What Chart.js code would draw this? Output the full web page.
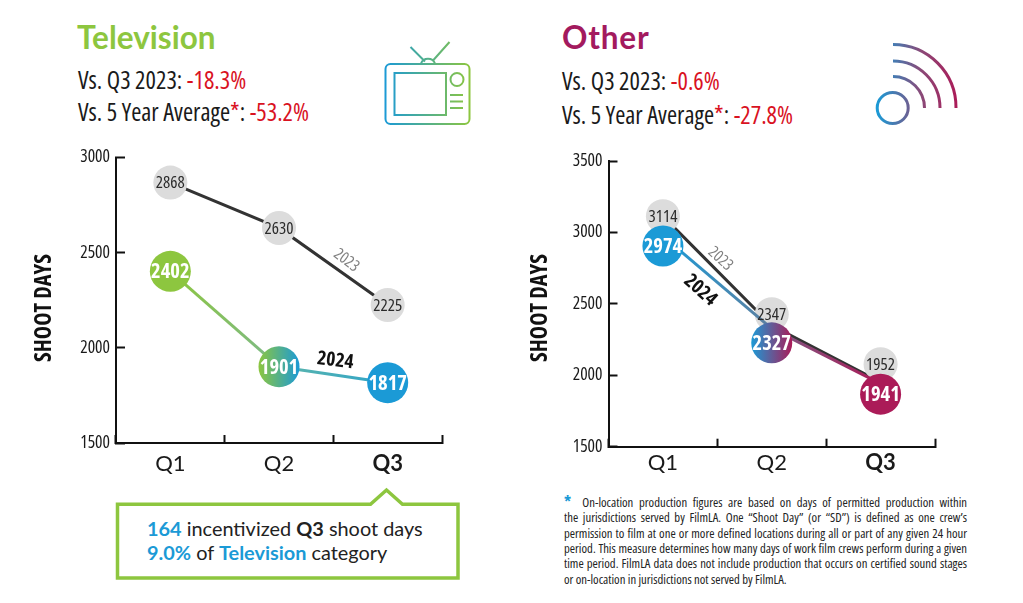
<!DOCTYPE html>
<html>
<head>
<meta charset="utf-8">
<script src="https://cdn.jsdelivr.net/npm/chart.js@4"></script>
<style>
html, body { margin: 0; padding: 0; background: #fff; width: 1023px; height: 603px; overflow: hidden; }
canvas, svg, .txt { position: absolute; }
.txt { white-space: nowrap; }
.head { font: 700 31.5px Lato, sans-serif; }
.vs { font: 24.5px "Open Sans", sans-serif; font-stretch: 75%; color: #1a1a1a; }
.red { color: #d9121f; }
.box { font: 19.9px Lato, sans-serif; color: #222; }
.box b { font-weight: 700; }
.blue { color: #1b9ad6; }
.star { font-size: 16px; line-height: 10px; }
.note { left: 564px; width: 403px; font: 12.7px/15px "Open Sans", sans-serif; font-stretch: 75%; color: #222; white-space: normal; text-align: justify; text-align-last: justify; }
.note.last { text-align-last: left; }
</style>
</head>
<body>

<div class="txt head" style="left:77px;top:18px;color:#8dc63f">Television</div>
<div class="txt vs" style="left:78px;top:63px">Vs. Q3 2023: <span class="red">-18.3%</span></div>
<div class="txt vs" style="left:78px;top:95px">Vs. 5 Year Average<span class="red">*</span>: <span class="red">-53.2%</span></div>

<div class="txt head" style="left:562px;top:18px;color:#a31a5e;letter-spacing:0.8px">Other</div>
<div class="txt vs" style="left:562px;top:64px">Vs. Q3 2023: <span class="red">-0.6%</span></div>
<div class="txt vs" style="left:562px;top:98px">Vs. 5 Year Average<span class="red">*</span>: <span class="red">-27.8%</span></div>

<!-- icons -->
<svg width="1023" height="603" style="left:0;top:0" fill="none">
  <defs>
    <linearGradient id="tvGrad" gradientUnits="userSpaceOnUse" x1="385" y1="0" x2="470" y2="0">
      <stop offset="0" stop-color="#1b9ad6"/><stop offset="1" stop-color="#8dc63f"/>
    </linearGradient>
    <linearGradient id="wifiGrad" gradientUnits="userSpaceOnUse" x1="877" y1="0" x2="957" y2="0">
      <stop offset="0" stop-color="#1b9ad6"/><stop offset="0.55" stop-color="#8a4a78"/><stop offset="1" stop-color="#ab1b58"/>
    </linearGradient>
  </defs>
  <g stroke="url(#tvGrad)" stroke-width="2">
    <rect x="385.5" y="64" width="84" height="60" rx="5"/>
    <rect x="394.5" y="73" width="51.5" height="42"/>
    <circle cx="457" cy="79.5" r="6.5"/>
    <path d="M450 95H463M450 101.500H463M450 108H463" stroke-width="2.200"/>
    <path d="M410.500 47L425 61.500M449.500 42L433 60.500M421 63.500A7.500 7.500 0 0 1 435 63.500"/>
  </g>
  <g stroke="url(#wifiGrad)" stroke-width="3">
    <circle cx="892.700" cy="108" r="15.500"/>
    <path d="M893 76.500A31.500 31.500 0 0 1 924.500 108M893 61A47 47 0 0 1 940 108M893 44.500A63 63 0 0 1 956 108"/>
  </g>
  <path d="M117.500 504.300H370.500L386.500 490L402.500 504.300H458V578H117.500Z" stroke="#8dc63f" stroke-width="3.500"/>
</svg>

<div class="txt box" style="left:147px;top:516px"><b class="blue">164</b> incentivized <b>Q3</b> shoot days</div>
<div class="txt box" style="left:147px;top:540px"><b class="blue">9.0%</b> of <b class="blue">Television</b> category</div>

<div class="txt note" style="top:495px"><b class="blue star">*</b>&nbsp; On-location production figures are based on days of permitted production within</div>
<div class="txt note" style="top:510px">the jurisdictions served by FilmLA. One “Shoot Day” (or “SD”) is defined as one crew’s</div>
<div class="txt note" style="top:526px">permission to film at one or more defined locations during all or part of any given 24 hour</div>
<div class="txt note" style="top:541px">period. This measure determines how many days of work film crews perform during a given</div>
<div class="txt note" style="top:556px">time period. FilmLA data does not include production that occurs on certified sound stages</div>
<div class="txt note last" style="top:572px">or on-location in jurisdictions not served by FilmLA.</div>

<canvas id="tvChart" width="500" height="340" style="left:0;top:137px"></canvas>
<canvas id="otherChart" width="511" height="340" style="left:512px;top:140px"></canvas>

<script>
const quarters = ['Q1', 'Q2', 'Q3'];

const tv2023 = [2868, 2630, 2225];
const tv2024 = [2402, 1901, 1817];
const tvTicks = [1500, 2000, 2500, 3000];

const other2023 = [3114, 2347, 1952];
const other2024 = [2974, 2327, 1941];
const otherTicks = [1500, 2000, 2500, 3000, 3500];

// the Other circles sit off their lines in the picture so they don't cover each other,
// these are the heights they are drawn at. Printed numbers still come from the arrays above
const other2023Circles = [3114, 2428, 2078];
const other2024Circles = [2905, 2227, 1868];

const GREEN = '#8dc63f', BLUE = '#1b9ad6', BERRY = '#ab1b58', GREY = '#dcdcdc', DARK = '#333333';
const NARROW = '"Open Sans", sans-serif';

function sideways(chart, c1, c2, x1, x2) {
    const g = chart.ctx.createLinearGradient(x1, 0, x2, 0);
    g.addColorStop(0, c1);
    g.addColorStop(1, c2);
    return g;
}

function lineSet(values, width, segColors) {
    return {
        data: values,
        borderColor: DARK,
        borderWidth: width,
        pointRadius: 0,
        clip: false,
        segment: {
            borderColor: ctx => segColors
                ? sideways(ctx.chart, segColors[ctx.p0DataIndex][0], segColors[ctx.p0DataIndex][1], ctx.p0.x, ctx.p1.x)
                : DARK
        }
    };
}

function circleSet(heights, printed, radius, fills, textStyle) {
    return {
        data: heights,
        showLine: false,
        clip: false,
        pointRadius: radius,
        pointBorderWidth: 0,
        pointBackgroundColor: ctx => {
            const f = fills[ctx.dataIndex];
            if (typeof f === 'string') return f;
            const cx = ctx.chart.scales.x.getPixelForValue(ctx.dataIndex);
            return sideways(ctx.chart, f[0], f[1], cx - radius, cx + radius);
        },
        printed: printed,
        textStyle: textStyle
    };
}

const printedNumbers = {
    id: 'printedNumbers',
    afterDatasetsDraw(chart, args, opts) {
        const c = chart.ctx;
        c.save();
        c.textAlign = 'center';
        c.textBaseline = 'middle';

        chart.data.datasets.forEach((ds, i) => {
            if (!ds.printed) return;
            c.font = ds.textStyle.font;
            c.fillStyle = ds.textStyle.color;
            chart.getDatasetMeta(i).data.forEach((pt, k) => c.fillText(ds.printed[k], pt.x, pt.y + 1));
        });

        // year tags follow the middle of a line segment
        opts.tags.forEach(t => {
            const pts = chart.getDatasetMeta(t.line).data;
            const x = (pts[t.seg].x + pts[t.seg + 1].x) / 2 + t.dx;
            const y = (pts[t.seg].y + pts[t.seg + 1].y) / 2 + t.dy;
            c.save();
            c.translate(x, y);
            c.rotate(t.angle * Math.PI / 180);
            c.font = t.font;
            c.fillStyle = t.color;
            c.fillText(t.text, 0, 0);
            c.restore();
        });

        // axis caption is lower than the middle of the axis, so not the scale's own title
        c.save();
        c.translate(opts.captionX, opts.captionY);
        c.rotate(-Math.PI / 2);
        c.font = 'bold condensed 22.5px ' + NARROW;
        c.fillStyle = '#111';
        c.fillText('SHOOT DAYS', 0, 0);
        c.restore();

        c.restore();
    }
};

function makeChart(id, datasets, ticks, tags, area, captionX, captionY) {
    return new Chart(document.getElementById(id), {
        type: 'line',
        data: { labels: quarters, datasets: datasets },
        plugins: [printedNumbers],
        options: {
            responsive: false,
            animation: false,
            events: [],
            layout: { padding: { left: 0, right: area.right, top: area.top, bottom: 0 } },
            plugins: {
                legend: { display: false },
                title: { display: false },
                tooltip: { enabled: false },
                printedNumbers: { tags: tags, captionX: captionX, captionY: captionY }
            },
            scales: {
                x: {
                    offset: true,
                    afterFit: s => { s.height = area.below; s.paddingLeft = 0; s.paddingRight = 0; },
                    border: { color: '#111', width: 2 },
                    grid: { drawOnChartArea: false, tickLength: -8, tickWidth: 2, tickColor: '#111', offset: true },
                    ticks: {
                        padding: area.xPad,
                        color: '#1a1a1a',
                        maxRotation: 0,
                        font: c => ({ family: 'Lato, sans-serif', size: 22, weight: c.index === 2 ? '700' : '400' })
                    }
                },
                y: {
                    min: ticks[0],
                    max: ticks[ticks.length - 1],
                    afterFit: s => { s.width = area.left; s.paddingTop = 0; s.paddingBottom = 0; },
                    afterBuildTicks: s => { s.ticks = ticks.map(v => ({ value: v })); },
                    border: { color: '#111', width: 2 },
                    grid: { drawOnChartArea: false, tickLength: -9, tickWidth: 2, tickColor: '#111' },
                    ticks: {
                        padding: 15,
                        color: '#1a1a1a',
                        callback: v => String(v),
                        font: { family: NARROW, size: 17.500, weight: 'condensed' }
                    }
                }
            }
        }
    });
}

const greyText = { font: '500 condensed 17px ' + NARROW, color: '#2b2b2b' };
const whiteText = { font: 'bold condensed 20.5px ' + NARROW, color: '#ffffff' };
const tag2023 = 'condensed 16px ' + NARROW;
const tag2024 = 'bold condensed 19.5px ' + NARROW;

makeChart('tvChart', [
    Object.assign(circleSet(tv2024, tv2024, 20.5, [GREEN, [GREEN, BLUE], BLUE], whiteText), { order: 1 }),
    Object.assign(lineSet(tv2024, 3, [[GREEN, '#7cb98a'], ['#5cb6ab', '#2fa3c9']]), { order: 2 }),
    Object.assign(circleSet(tv2023, tv2023, 17, [GREY, GREY, GREY], greyText), { order: 3 }),
    Object.assign(lineSet(tv2023, 3), { order: 4 })
], tvTicks, [
    { line: 3, seg: 1, dx: 13, dy: -6, angle: 37, text: '2023', font: tag2023, color: '#808080' },
    { line: 1, seg: 1, dx: 2, dy: -14, angle: 7, text: '2024', font: tag2024, color: '#111' }
], { left: 116, right: 58, top: 20, below: 34, xPad: 16 }, 45, 171);

makeChart('otherChart', [
    Object.assign(circleSet(other2024Circles, other2024, 20.5, [BLUE, [BLUE, BERRY], BERRY], whiteText), { order: 1 }),
    Object.assign(lineSet(other2024, 3, [[BLUE, '#5f7f9f'], ['#7d5a84', BERRY]]), { order: 2 }),
    Object.assign(circleSet(other2023Circles, other2023, 17, [GREY, GREY, GREY], greyText), { order: 3 }),
    Object.assign(lineSet(other2023, 3), { order: 4 })
], otherTicks, [
    { line: 3, seg: 0, dx: 3, dy: -12, angle: 42, text: '2023', font: tag2023, color: '#808080' },
    { line: 1, seg: 0, dx: -17, dy: 8, angle: 42, text: '2024', font: tag2024, color: '#111' }
], { left: 96.5, right: 88, top: 21, below: 33.3, xPad: 11 }, 29, 168);
</script>
</body>
</html>
